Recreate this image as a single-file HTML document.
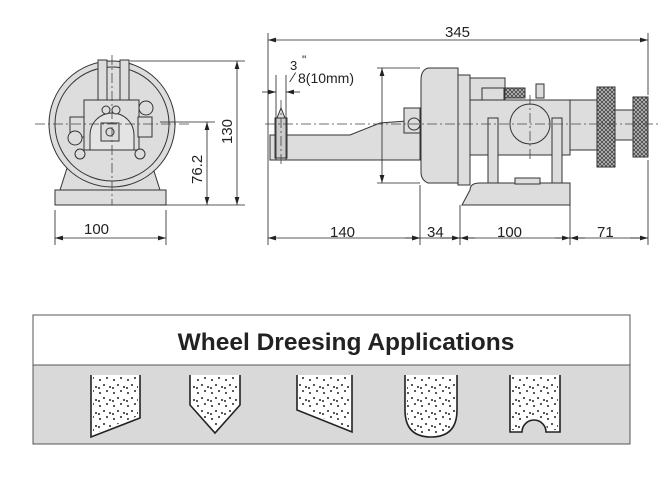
<!DOCTYPE html>
<html><head><meta charset="utf-8"><style>body{margin:0;background:#fff}svg{display:block}</style></head><body>
<svg width="672" height="481" viewBox="0 0 672 481" xmlns="http://www.w3.org/2000/svg" font-family="Liberation Sans, sans-serif">
<defs>
<marker id="a" viewBox="0 0 10 6" refX="10" refY="3" markerWidth="10" markerHeight="6" orient="auto-start-reverse"><path d="M0,0L10,3L0,6z" fill="#222"/></marker>
<pattern id="k" width="4" height="4" patternUnits="userSpaceOnUse"><rect width="4" height="4" fill="#bbb"/><path d="M0,0L4,4M4,0L0,4" stroke="#333" stroke-width="0.7"/></pattern>
<pattern id="d" width="14" height="13" patternUnits="userSpaceOnUse"><circle cx="2" cy="3" r="1" fill="#222"/><circle cx="9" cy="1" r="1" fill="#222"/><circle cx="6" cy="8" r="1" fill="#222"/><circle cx="12" cy="10" r="1" fill="#222"/><circle cx="1" cy="11" r="1" fill="#222"/></pattern>
</defs>
<g stroke="#333" stroke-width="1" fill="#ddd">
<path d="M68,165 L152,165 L160,190 L60,190 Z"/>
<rect x="55" y="190" width="111" height="15"/>
<circle cx="112" cy="124" r="63"/>
<circle cx="112" cy="124" r="57" fill="none"/>
<rect x="98" y="60" width="9" height="45" fill="#ddd"/><rect x="120" y="60" width="9" height="45" fill="#ddd"/>
<rect x="84" y="100" width="55" height="50"/>
<rect x="70" y="117" width="14" height="20"/><rect x="138" y="117" width="14" height="20"/>
<path d="M90,150 L90,135 A22,22 0 0 1 134,135 L134,150 Z" fill="#e4e4e4"/>
<rect x="101" y="123" width="18" height="18"/><circle cx="110" cy="132" r="4"/>
<circle cx="75" cy="138" r="7"/><circle cx="80" cy="154" r="5"/><circle cx="140" cy="154" r="5"/><circle cx="146" cy="108" r="7"/>
<circle cx="106" cy="110" r="4"/><circle cx="116" cy="110" r="4"/>
<path d="M270,135 L350,135 L380,123 L420,120 L420,160 L270,160 Z"/>
<rect x="275" y="118" width="12" height="40" fill="#ccc"/>
<path d="M277,118 L281,108 L285,118Z"/>
<rect x="404" y="108" width="16" height="25"/>
<circle cx="414" cy="124" r="6"/>
<path d="M428,68 L458,68 L458,183 L428,183 Q421,180 421,172 L421,80 Q421,70 428,68Z"/>
<rect x="458" y="75" width="12" height="110"/>
<rect x="470" y="78" width="35" height="22"/><rect x="482" y="88" width="22" height="22"/>
<rect x="505" y="88" width="20" height="10" fill="url(#k)"/>
<rect x="536" y="84" width="8" height="14"/>
<rect x="470" y="100" width="100" height="55"/>
<circle cx="530" cy="124" r="20" fill="#ddd"/>
<rect x="488" y="118" width="10" height="70"/><rect x="552" y="118" width="10" height="70"/>
<path d="M470,190 Q470,183 480,183 L570,183 L570,205 L462,205 Z"/>
<rect x="515" y="178" width="25" height="6"/>
<rect x="570" y="100" width="28" height="50"/>
<rect x="597" y="87" width="18" height="80" fill="url(#k)"/>
<rect x="615" y="110" width="20" height="30"/>
<rect x="633" y="97" width="15" height="60" fill="url(#k)"/>
</g>
<g stroke="#444" stroke-width="0.8" fill="none" stroke-dasharray="10,3,2,3">
<path d="M35,124 L190,124 M112,55 L112,205 M265,124 L660,124 M530,95 L530,160 M281,100 L281,165"/>
</g>
<g stroke="#222" stroke-width="0.8" fill="none">
<path d="M130,61 L245,61 M160,122 L215,122 M160,205 L245,205"/>
<path d="M237,61 L237,205" marker-start="url(#a)" marker-end="url(#a)"/>
<path d="M207,122 L207,205" marker-start="url(#a)" marker-end="url(#a)"/>
<path d="M55,210 L55,245 M166,210 L166,245"/>
<path d="M55,238 L166,238" marker-start="url(#a)" marker-end="url(#a)"/>
<path d="M268,33 L268,245 M648,33 L648,95 M648,160 L648,245 M420,185 L420,245 M460,205 L460,245 M570,205 L570,245"/>
<path d="M268,40 L648,40" marker-start="url(#a)" marker-end="url(#a)"/>
<path d="M268,238 L420,238" marker-start="url(#a)" marker-end="url(#a)"/>
<path d="M420,238 L460,238 M460,238 L570,238 M570,238 L648,238"/>
<path d="M405,238 L420,238" marker-end="url(#a)"/><path d="M475,238 L460,238" marker-end="url(#a)"/>
<path d="M440,238 L460,238" marker-end="url(#a)"/><path d="M555,238 L570,238" marker-end="url(#a)"/>
<path d="M585,238 L570,238" marker-end="url(#a)"/><path d="M630,238 L648,238" marker-end="url(#a)"/>
<path d="M377,68 L420,68 M377,183 L420,183"/>
<path d="M382,68 L382,183" marker-start="url(#a)" marker-end="url(#a)"/>
<path d="M276,75 L276,160 M286,75 L286,160"/>
<path d="M262,92 L276,92" marker-end="url(#a)"/><path d="M300,92 L286,92" marker-end="url(#a)"/>
</g>
<g fill="#222" font-size="15">
<text x="84" y="234">100</text>
<text x="330" y="237">140</text>
<text x="427" y="237">34</text>
<text x="497" y="237">100</text>
<text x="597" y="237">71</text>
<text x="445" y="37">345</text>
<text transform="translate(232,144) rotate(-90)">130</text>
<text transform="translate(202,184) rotate(-90)">76.2</text>
<text x="290" y="70" font-size="13">3</text><text x="302" y="64" font-size="12">"</text>
<text x="292" y="82" font-size="14">⁄</text>
<text x="298" y="83" font-size="14">8(10mm)</text>
</g>
<rect x="33" y="315" width="597" height="129" fill="#fff" stroke="#555"/>
<rect x="33" y="365" width="597" height="79" fill="#d9d9d9" stroke="#555"/>
<text x="346" y="350" text-anchor="middle" font-size="24.5" font-weight="bold" fill="#222">Wheel Dreesing Applications</text>
<g stroke="#222" stroke-width="1.6" fill="#fff">
<path d="M91,375 L91,437 L140,418 L140,375"/>
<path d="M190,375 L190,405 L215,433 L240,405 L240,375"/>
<path d="M297,375 L297,410 L352,432 L352,375"/>
<path d="M405,375 L405,410 Q405,437 431,437 Q457,437 457,410 L457,375"/>
<path d="M510,375 L510,432 L522,432 A12,12 0 0 1 546,432 L560,432 L560,375"/>
</g>
<g fill="url(#d)">
<path d="M93,377 L93,434 L138,416 L138,377Z"/>
<path d="M192,377 L192,404 L215,430 L238,404 L238,377Z"/>
<path d="M299,377 L299,408 L350,429 L350,377Z"/>
<path d="M407,377 L407,410 Q407,435 431,435 Q455,435 455,410 L455,377Z"/>
<path d="M512,377 L512,430 L521,430 A13,13 0 0 1 547,430 L558,430 L558,377Z"/>
</g>
</svg>
</body></html>
